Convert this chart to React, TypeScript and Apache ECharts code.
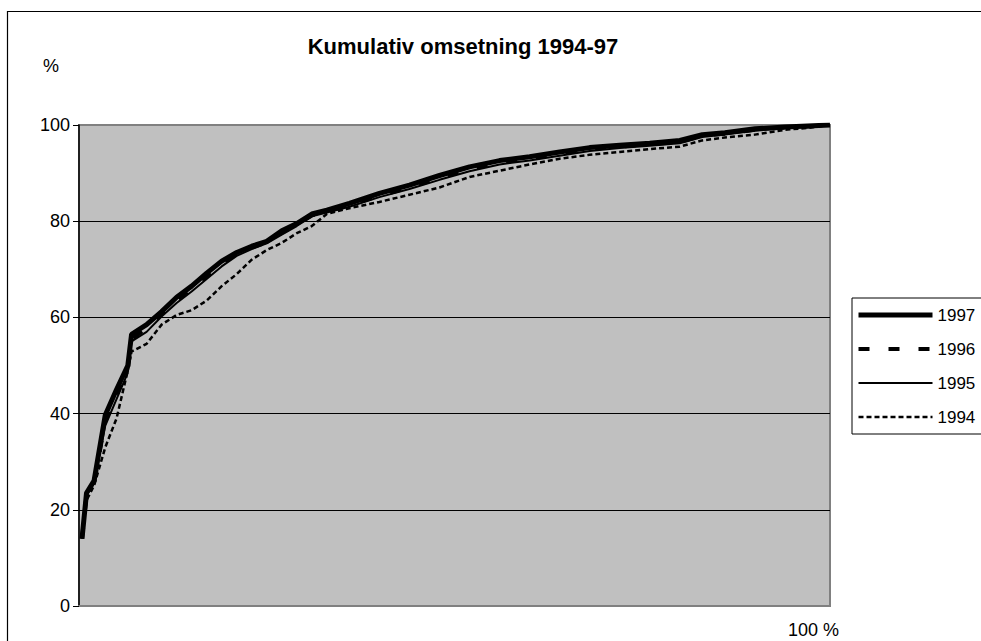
import React, { useEffect, useRef } from "react";
import * as echarts from "echarts";

// share of firms (%), x axis
const andel = [0.4, 1, 2, 3.5, 5, 6.5, 7, 9, 11, 13, 15, 17, 19, 21, 23, 25, 27, 29, 31, 33, 36, 40, 44, 48, 52, 56, 60, 64, 68, 72, 76, 80, 83, 86, 90, 94, 97, 100];

const y1997 = [14, 23.5, 26, 39.7, 45, 50, 56.5, 58.5, 61.2, 64.2, 66.5, 69.2, 71.7, 73.5, 74.8, 75.8, 78, 79.5, 81.5, 82.3, 83.7, 85.8, 87.5, 89.5, 91.3, 92.6, 93.4, 94.4, 95.3, 95.8, 96.2, 96.8, 98, 98.4, 99.2, 99.6, 99.8, 100];
const y1996 = [14, 23, 25.5, 38.5, 44, 49, 55.5, 57.8, 60.8, 63.6, 66, 68.6, 71.2, 73.2, 74.5, 75.6, 77.6, 79.3, 81.2, 82, 83.3, 85.3, 87, 89, 90.8, 92.2, 93, 94, 95, 95.5, 96, 96.5, 97.8, 98.2, 99, 99.5, 99.7, 100];
const y1995 = [14.5, 23, 25.5, 37.5, 43, 48.5, 55, 57, 60.2, 63, 65.4, 68, 70.6, 72.8, 74.2, 75.4, 77.2, 79, 81, 81.8, 83, 85, 86.7, 88.6, 90.4, 91.8, 92.6, 93.6, 94.6, 95.2, 95.7, 96.2, 97.5, 98, 98.8, 99.4, 99.6, 100];
const y1994 = [14, 22, 25, 33, 39, 49, 52.9, 54.5, 58.5, 60.5, 61.5, 63.5, 66.5, 69, 72, 74, 75.5, 77.5, 79, 81.5, 82.7, 84, 85.5, 87, 89.2, 90.5, 91.8, 93, 93.8, 94.4, 95, 95.5, 96.8, 97.4, 98, 99, 99.4, 100];

const legendNames = ["1997", "1996", "1995", "1994"];
const title = "Kumulativ omsetning 1994-97";
const yUnit = "%";
const xEndLabel = "100 %";

const FONT = "'Liberation Sans', Arial, sans-serif";

function pairs(ys: number[]) {
  return andel.map((x, i) => [x, ys[i]]);
}

export default function App() {
  const ref = useRef<HTMLDivElement>(null);
  useEffect(() => {
    if (!ref.current) return;
    const chart = echarts.init(ref.current, undefined, { renderer: "svg" });
    chart.setOption({
      animation: false,
      backgroundColor: "#fff",
      title: {
        text: title,
        left: 458,
        top: 30,
        textAlign: "center",
        textStyle: { fontFamily: FONT, fontSize: 22, fontWeight: "bold", color: "#000" },
      },
      grid: {
        left: 79,
        top: 125,
        right: 151,
        bottom: 35,
        show: true,
        backgroundColor: "#C0C0C0",
        borderColor: "#808080",
        borderWidth: 2,
      },
      legend: {
        orient: "vertical",
        left: 852,
        top: 298,
        padding: [8, 30, 8, 4],
        itemWidth: 74,
        itemHeight: 16,
        itemGap: 16,
        itemTextGap: 1,
        borderColor: "#000",
        borderWidth: 1,
        backgroundColor: "#fff",
        data: legendNames,
        itemStyle: { opacity: 0 },
        lineStyle: { width: "inherit" },
        textStyle: { fontFamily: FONT, fontSize: 17, color: "#000", lineHeight: 18 },
      },
      xAxis: {
        type: "value",
        min: 0,
        max: 100,
        axisLabel: { show: false },
        axisTick: { show: false },
        splitLine: { show: false },
        axisLine: { lineStyle: { color: "#808080", width: 2 } },
      },
      yAxis: {
        type: "value",
        min: 0,
        max: 100,
        interval: 20,
        axisLine: { show: true, lineStyle: { color: "#000", width: 1.5 } },
        axisTick: { show: true, length: 6, lineStyle: { color: "#000" } },
        axisLabel: { fontFamily: FONT, fontSize: 18, color: "#000", margin: 9 },
        splitLine: {
          show: true,
          lineStyle: { color: ["#808080", "#000", "#000", "#000", "#000", "#808080"], width: 1 },
        },
      },
      graphic: [
        {
          type: "rect",
          silent: true,
          shape: { x: 7.5, y: 11.5, width: 1200, height: 1200 },
          style: { fill: "none", stroke: "#000", lineWidth: 1.2 },
          z: 100,
        },
        {
          type: "text",
          left: 43,
          top: 57,
          style: { text: yUnit, fontFamily: FONT, fontSize: 18, fill: "#000" },
        },
        {
          type: "text",
          left: 788,
          top: 621,
          style: { text: xEndLabel, fontFamily: FONT, fontSize: 18, fill: "#000" },
        },
      ],
      series: [
        {
          name: "1994",
          type: "line",
          data: pairs(y1994),
          symbol: "none",
          itemStyle: { color: "#000" },
          lineStyle: { color: "#000", width: 2.5, type: [5, 3] },
        },
        {
          name: "1995",
          type: "line",
          data: pairs(y1995),
          symbol: "none",
          itemStyle: { color: "#000" },
          lineStyle: { color: "#000", width: 2 },
        },
        {
          name: "1996",
          type: "line",
          data: pairs(y1996),
          symbol: "none",
          itemStyle: { color: "#000" },
          lineStyle: { color: "#000", width: 4, type: [11, 19] },
        },
        {
          name: "1997",
          type: "line",
          data: pairs(y1997),
          symbol: "none",
          itemStyle: { color: "#000" },
          lineStyle: { color: "#000", width: 5 },
        },
      ],
    });
    return () => chart.dispose();
  }, []);
  return (
    <div
      ref={ref}
      style={{ position: "fixed", left: 0, top: 0, width: 981, height: 641 }}
    />
  );
}
